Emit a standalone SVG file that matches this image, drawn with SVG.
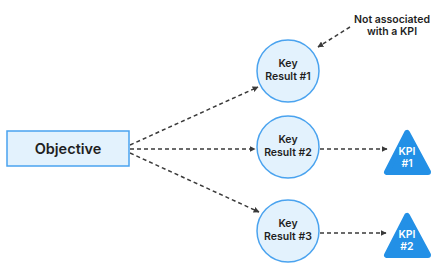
<svg xmlns="http://www.w3.org/2000/svg" width="440" height="275" viewBox="0 0 440 275">
<defs>
<marker id="ah" viewBox="0 0 10 10" refX="9" refY="5" markerWidth="6" markerHeight="6" orient="auto" markerUnits="userSpaceOnUse">
<path d="M0,0 L10,5 L0,10 z" fill="#3a3a3a"/>
</marker>
<style>
.lbl{font-family:Inter,"Noto Sans",sans-serif;font-weight:600;fill:#1f1f1f;text-anchor:middle}
.kr{fill:#e3f2fd;stroke:#4aa3ef;stroke-width:1.5}
.kpi{fill:#2390e6;stroke:#2390e6;stroke-width:6;stroke-linejoin:round}
.kpit{font-family:Inter,"Noto Sans",sans-serif;font-weight:600;fill:#ffffff;text-anchor:middle;font-size:10.5px}
.conn{fill:none;stroke:#3a3a3a;stroke-width:1.5;stroke-dasharray:4 3;marker-end:url(#ah)}
</style>
</defs>
<rect width="440" height="275" fill="#ffffff"/>
<g id="connectors">
<line class="conn" x1="130" y1="145" x2="258" y2="87"/>
<line class="conn" x1="130" y1="149" x2="255" y2="149"/>
<line class="conn" x1="130" y1="153" x2="259" y2="212"/>
<line class="conn" x1="320" y1="149" x2="387" y2="149"/>
<line class="conn" x1="320" y1="233" x2="386" y2="233"/>
<line class="conn" x1="350" y1="27" x2="318" y2="47"/>
</g>
<g id="objective">
<rect x="7" y="131" width="122" height="35" fill="#e3f2fd" stroke="#4aa3ef" stroke-width="1.5"/>
<text class="lbl" x="68" y="154" font-size="14.5">Objective</text>
</g>
<g id="kr1">
<circle class="kr" cx="288" cy="71" r="31"/>
<text class="lbl" x="288" y="67" font-size="10.5">Key</text>
<text class="lbl" x="288" y="80" font-size="10.5">Result #1</text>
</g>
<g id="kr2">
<circle class="kr" cx="288" cy="147" r="31"/>
<text class="lbl" x="288" y="143" font-size="10.5">Key</text>
<text class="lbl" x="288" y="156" font-size="10.5">Result #2</text>
</g>
<g id="kr3">
<circle class="kr" cx="288" cy="231" r="31"/>
<text class="lbl" x="288" y="227" font-size="10.5">Key</text>
<text class="lbl" x="288" y="240" font-size="10.5">Result #3</text>
</g>
<g id="kpi1">
<polygon class="kpi" points="407,133 387,172 428,172"/>
<text class="kpit" x="407" y="155">KPI</text>
<text class="kpit" x="407" y="167">#1</text>
</g>
<g id="kpi2">
<polygon class="kpi" points="407,216 387,255 428,255"/>
<text class="kpit" x="407" y="238">KPI</text>
<text class="kpit" x="407" y="250">#2</text>
</g>
<g id="note">
<text class="lbl" x="392" y="23" font-size="10.5">Not associated</text>
<text class="lbl" x="392" y="35" font-size="10.5">with a KPI</text>
</g>
</svg>
